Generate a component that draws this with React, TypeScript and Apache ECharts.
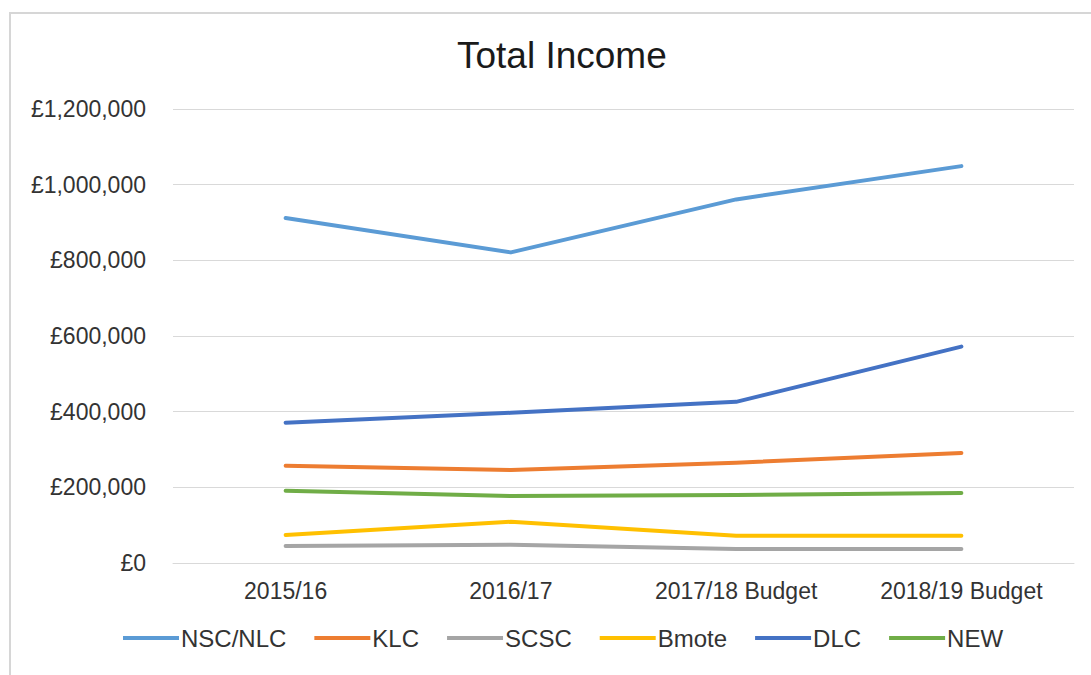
import React, { useEffect, useRef } from "react";
import * as echarts from "echarts";

const categories = ["2015/16", "2016/17", "2017/18 Budget", "2018/19 Budget"];
const seriesNames = ["NSC/NLC", "KLC", "SCSC", "Bmote", "DLC", "NEW"];
const nscNlc = [912000, 821000, 961000, 1049000];
const klc = [257000, 246000, 265000, 291000];
const scsc = [45000, 48000, 37000, 37000];
const bmote = [74000, 109000, 72000, 72000];
const dlc = [371000, 397000, 426000, 572000];
const newData = [191000, 177000, 180000, 185000];
const colors = ["#5B9BD5", "#ED7D31", "#A5A5A5", "#FFC000", "#4472C4", "#70AD47"];

const FONT = "'Liberation Sans', Arial, Helvetica, sans-serif";

export default function App() {
  const ref = useRef<HTMLDivElement>(null);
  useEffect(() => {
    if (!ref.current) return;
    const chart = echarts.init(ref.current, undefined, { renderer: "svg" });
    const all = [nscNlc, klc, scsc, bmote, dlc, newData];
    chart.setOption({
      animation: false,
      backgroundColor: "#ffffff",
      title: {
        text: "Total Income",
        left: 452,
        top: 32,
        textStyle: { fontFamily: FONT, fontSize: 37, fontWeight: "normal", color: "#1a1a1a" },
      },
      graphic: [
        {
          type: "rect",
          shape: { x: 10, y: 13, width: 1100, height: 700 },
          style: { fill: "none", stroke: "#d6d6d6", lineWidth: 2 },
          silent: true,
        },
      ],
      grid: { left: 173, right: 17, top: 109, bottom: 112 },
      legend: {
        bottom: 20,
        left: 118,
        icon: "rect",
        itemWidth: 56,
        itemHeight: 4,
        itemGap: 28,
        data: seriesNames,
        textStyle: { fontFamily: FONT, fontSize: 24, color: "#333333", padding: [0, 0, 0, -3] },
      },
      xAxis: {
        type: "category",
        data: categories,
        boundaryGap: true,
        axisLine: { show: true, lineStyle: { color: "#d9d9d9", width: 1 } },
        axisTick: { show: false },
        axisLabel: { fontFamily: FONT, fontSize: 23, color: "#333333", margin: 16 },
      },
      yAxis: {
        type: "value",
        min: 0,
        max: 1200000,
        interval: 200000,
        axisLine: { show: false },
        axisTick: { show: false },
        splitLine: { lineStyle: { color: "#d9d9d9", width: 1 } },
        axisLabel: {
          fontFamily: FONT,
          fontSize: 23,
          color: "#333333",
          margin: 27,
          formatter: (v: number) => "£" + v.toLocaleString("en-GB"),
        },
      },
      series: seriesNames.map((name, i) => ({
        name,
        type: "line",
        data: all[i],
        symbol: "none",
        lineStyle: { width: 4, color: colors[i], cap: "round", join: "round" },
        itemStyle: { color: colors[i] },
      })),
    });
    return () => chart.dispose();
  }, []);
  return <div ref={ref} style={{ width: 1091, height: 675, position: "absolute", left: 0, top: 0 }} />;
}
